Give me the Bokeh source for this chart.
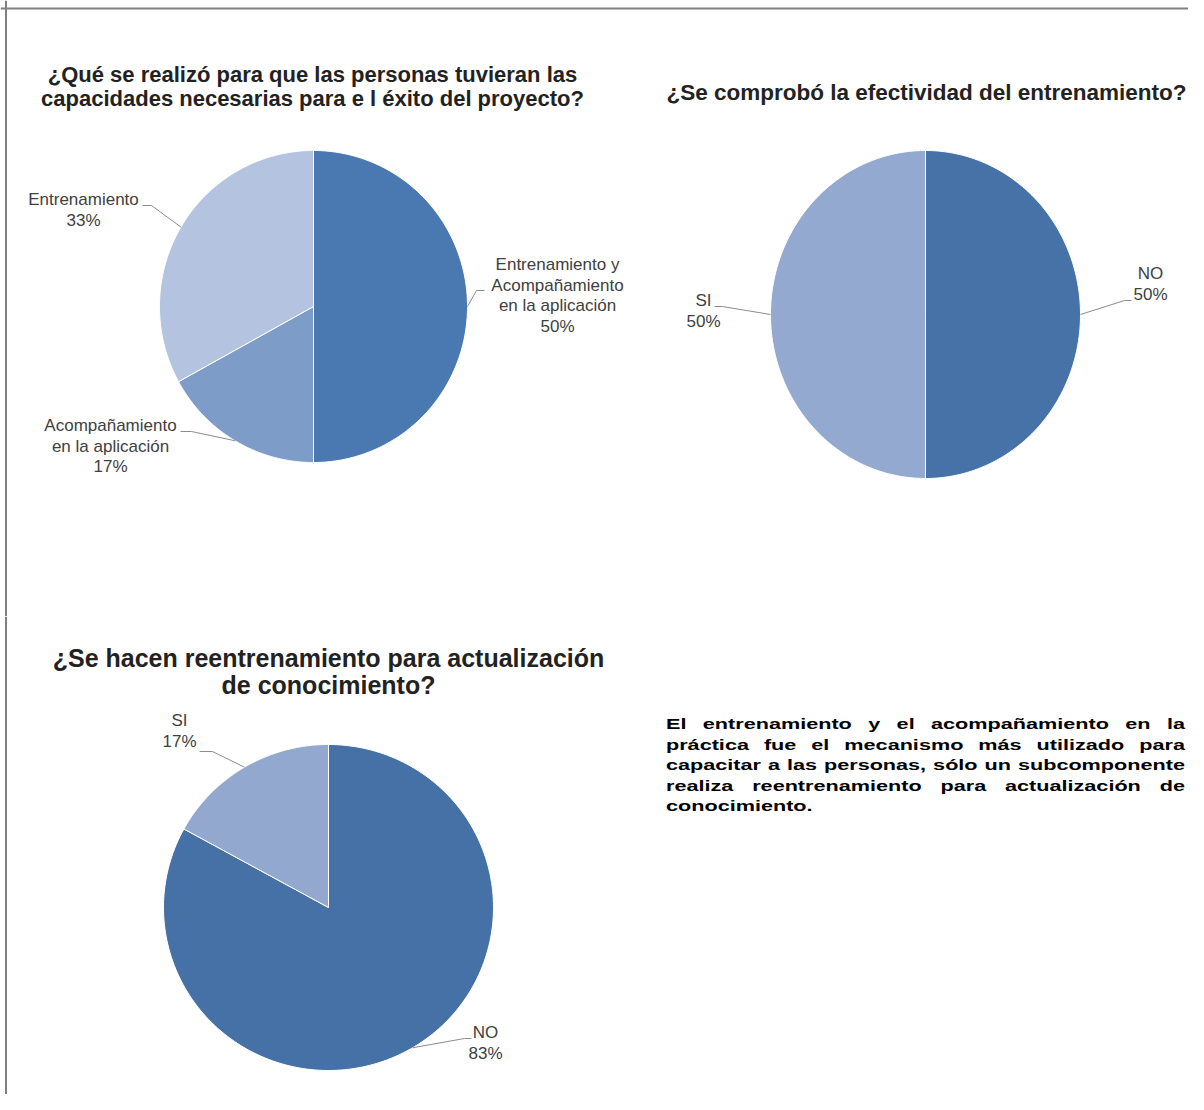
import numpy as np
from bokeh.plotting import figure
from bokeh.models import ColumnDataSource, Range1d, Span, Div
from bokeh.layouts import column, row
from bokeh.core.properties import value
from bokeh.embed import file_html
from bokeh.resources import INLINE

# ---------------- data ----------------
q1_title = ["¿Qué se realizó para que las personas tuvieran las",
            "capacidades necesarias para e l éxito del proyecto?"]
q1_labels = ["Entrenamiento y\nAcompañamiento\nen la aplicación",
             "Acompañamiento\nen la aplicación",
             "Entrenamiento"]
q1_values = [50, 17, 33]
q1_colors = ["#4A78B0", "#7E9CC8", "#B4C3DF"]

q2_title = ["¿Se comprobó la efectividad del entrenamiento?"]
q2_labels = ["NO", "SI"]
q2_values = [50, 50]
q2_colors = ["#4672A8", "#94A9CF"]

q3_title = ["¿Se hacen reentrenamiento para actualización", "de conocimiento?"]
q3_labels = ["NO", "SI"]
q3_values = [83, 17]
q3_colors = ["#4671A7", "#93A8CF"]

summary_lines = ["El entrenamiento y el acompañamiento en la",
                 "práctica fue el mecanismo más utilizado para",
                 "capacitar a las personas, sólo un subcomponente",
                 "realiza reentrenamiento para actualización de",
                 "conocimiento."]

# ---------------- styling / layout ----------------
FONT = "Liberation Sans"
LABEL_COLOR = "#404040"
TITLE_COLOR = "#222222"
LEADER_COLOR = "#8C8C8C"
LABEL_SIZE = "17px"
LABEL_LH = 20.5
BORDER = "#808080"


def make_fig(x0, x1, y0, y1):
    f = figure(width=int(x1 - x0), height=int(y1 - y0),
               x_range=Range1d(x0, x1), y_range=Range1d(y1, y0),
               output_backend="svg", toolbar_location=None,
               x_axis_location=None, y_axis_location=None,
               min_border=0, outline_line_color=None,
               background_fill_color="white", border_fill_color="white")
    f.xgrid.visible = False
    f.ygrid.visible = False
    return f


def draw_title(f, lines, cx, y0, lh, size):
    src = ColumnDataSource(dict(x=[cx] * len(lines),
                                y=[y0 + i * lh for i in range(len(lines))],
                                t=lines))
    f.text(x="x", y="y", text="t", source=src, text_align="center",
           text_baseline="middle", text_font=value(FONT),
           text_font_style="bold", text_font_size=size, text_color=TITLE_COLOR)


def draw_pie(f, cx, cy, rx, ry, labels, values, colors, specs):
    total = float(sum(values))
    xs, ys, mids = [], [], []
    start = 0.0
    for v in values:
        frac = v / total
        th = np.linspace(start, start + frac, 200) * 2 * np.pi
        xs.append([cx] + list(cx + rx * np.sin(th)))
        ys.append([cy] + list(cy - ry * np.cos(th)))
        m = (start + frac / 2) * 2 * np.pi
        mids.append((cx + rx * np.sin(m), cy - ry * np.cos(m)))
        start += frac
    f.patches(xs="xs", ys="ys", fill_color="c", line_color="white", line_width=1,
              source=ColumnDataSource(dict(xs=xs, ys=ys, c=colors)))

    tx, ty, tt = [], [], []
    lx, ly = [], []
    for lab, v, (mx, my), spec in zip(labels, values, mids, specs):
        lcx, ly0, path = spec
        lines = lab.split("\n") + ["%d%%" % round(100 * v / total)]
        for i, s in enumerate(lines):
            tx.append(lcx)
            ty.append(ly0 + i * LABEL_LH)
            tt.append(s)
        lx.append([mx] + [pt[0] for pt in path])
        ly.append([my] + [pt[1] for pt in path])
    f.multi_line(xs="xs", ys="ys", line_color=LEADER_COLOR, line_width=1,
                 source=ColumnDataSource(dict(xs=lx, ys=ly)))
    f.text(x="x", y="y", text="t", source=ColumnDataSource(dict(x=tx, y=ty, t=tt)),
           text_align="center", text_baseline="middle", text_font=value(FONT),
           text_font_size=LABEL_SIZE, text_color=LABEL_COLOR)


# ---------------- top figure (pies 1 and 2) ----------------
top = make_fig(0, 1188, 0, 616)
top.add_layout(Span(location=5.5, dimension="height", line_color=BORDER, line_width=2))
top.add_layout(Span(location=8, dimension="width", line_color=BORDER, line_width=2))

draw_title(top, q1_title, 312, 74, 24, "22px")
draw_pie(top, 313, 306, 154, 156, q1_labels, q1_values, q1_colors, [
    (557, 264, [(476, 290), (484, 290)]),
    (110, 425, [(191, 431), (180, 431)]),
    (83, 199, [(151, 205), (142, 205)]),
])

draw_title(top, q2_title, 926, 92, 24, "22.5px")
draw_pie(top, 925, 314, 155, 164, q2_labels, q2_values, q2_colors, [
    (1150, 273, [(1124, 300), (1131, 300)]),
    (703, 300, [(722, 306), (714, 306)]),
])

# ---------------- bottom-left figure (pie 3) ----------------
bot = make_fig(0, 620, 616, 1094)
bot.add_layout(Span(location=5.5, dimension="height", line_color=BORDER, line_width=2))

draw_title(bot, q3_title, 328, 657, 27, "25px")
draw_pie(bot, 328, 907, 165, 163, q3_labels, q3_values, q3_colors, [
    (485, 1032, [(464, 1038), (471, 1038)]),
    (179, 720, [(212, 751), (199, 751)]),
])

# ---------------- summary paragraph ----------------
n = len(summary_lines)
inner = "".join(
    '<div style="text-align:justify;text-align-last:%s;white-space:normal;">%s</div>'
    % ("justify" if i < n - 1 else "left", s)
    for i, s in enumerate(summary_lines))
html = ('<div style="margin-left:41px;margin-top:93px;width:372px;'
        'transform:scaleX(1.395);transform-origin:0 0;'
        "font-family:'Liberation Sans',Arial,sans-serif;font-weight:bold;"
        'font-size:15.5px;line-height:20.5px;color:#000000;">%s</div>' % inner)
para = Div(text=html, width=568, height=478)

p = column(top, row(bot, para))

open("out.html", "w").write(file_html(p, INLINE))
